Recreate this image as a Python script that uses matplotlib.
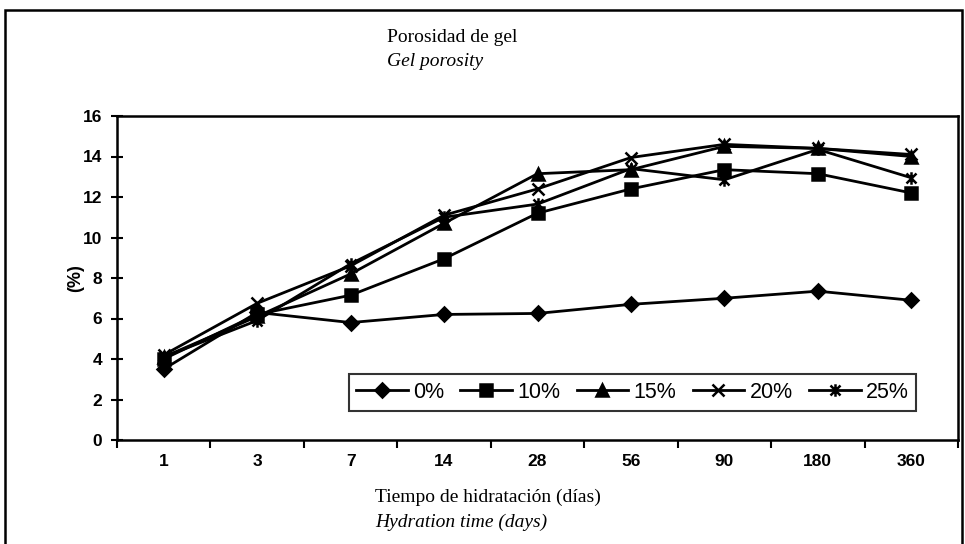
import matplotlib
matplotlib.use("Agg")
import matplotlib.pyplot as plt
from matplotlib.path import Path
from matplotlib.patches import Rectangle
import numpy as np

categories = ["1", "3", "7", "14", "28", "56", "90", "180", "360"]
series_names = ["0%", "10%", "15%", "20%", "25%"]
s0 = [3.5, 6.3, 5.8, 6.2, 6.25, 6.7, 7.0, 7.35, 6.9]
s10 = [4.0, 6.2, 7.15, 8.95, 11.2, 12.4, 13.35, 13.15, 12.2]
s15 = [4.1, 6.1, 8.2, 10.7, 13.15, 13.35, 14.5, 14.4, 14.0]
s20 = [4.2, 6.75, 8.6, 11.1, 12.4, 13.95, 14.6, 14.4, 14.1]
s25 = [4.1, 5.9, 8.7, 11.0, 11.65, 13.4, 12.85, 14.35, 12.95]
yticks = [0, 2, 4, 6, 8, 10, 12, 14, 16]

asterisk = Path([(-1, -1), (1, 1), (-1, 1), (1, -1), (0, -1.25), (0, 1.25)],
                [Path.MOVETO, Path.LINETO, Path.MOVETO, Path.LINETO, Path.MOVETO, Path.LINETO])

markers = ["D", "s", "^", "x", asterisk]
msizes = [7, 8, 8, 9, 9]

fig = plt.figure(figsize=(9.65, 5.44), dpi=100)
ax = fig.add_axes([117/965, 1-440/544, (958-117)/965, (440-116)/544])

x = np.arange(len(categories)) + 0.5
for vals, name, m, ms in zip([s0, s10, s15, s20, s25], series_names, markers, msizes):
    ax.plot(x, vals, color="black", lw=2.0, marker=m, ms=ms, mfc="black", mec="black",
            mew=1.8, label=name)

ax.set_xlim(0, len(categories))
ax.set_ylim(0, 16)
ax.set_yticks(yticks)
ax.set_xticks(np.arange(len(categories) + 1))
ax.set_xticklabels([])
ax.set_xticks(x, minor=True)
ax.set_xticklabels(categories, minor=True)
ax.tick_params(axis="x", which="major", direction="out", length=6, width=1.5)
ax.tick_params(axis="x", which="minor", length=0, pad=10)
ax.tick_params(axis="y", direction="inout", length=9, width=1.5, pad=6)
for lab in ax.get_xticklabels(minor=True) + ax.get_yticklabels():
    lab.set_fontfamily("Liberation Sans")
    lab.set_fontsize(12.5)
    lab.set_fontweight("bold")
for sp in ax.spines.values():
    sp.set_linewidth(1.8)

ax.set_ylabel("(%)", fontfamily="Liberation Sans", fontsize=13, fontweight="bold")
ax.yaxis.set_label_coords((84-117)/841, 0.5)

leg = ax.legend(ncol=5, loc="center", bbox_to_anchor=((352+913)/2/965, 1-(373+412)/2/544),
                bbox_transform=fig.transFigure, frameon=True, fancybox=False, edgecolor="black",
                prop={"family": "Liberation Sans", "size": 15.5}, handlelength=2.4,
                handletextpad=0.25, columnspacing=0.75, borderpad=0.35)
leg.get_frame().set_linewidth(1.5)

fig.text(387/965, 1-38/544, "Porosidad de gel", family="Liberation Serif", fontsize=14,
         ha="left", va="center")
fig.text(387/965, 1-62/544, "Gel porosity", family="Liberation Serif", fontsize=14,
         style="italic", ha="left", va="center")
fig.text(375/965, 1-497/544, "Tiempo de hidratación (días)", family="Liberation Serif",
         fontsize=14, ha="left", va="center")
fig.text(375/965, 1-522/544, "Hydration time (days)", family="Liberation Serif",
         fontsize=14, style="italic", ha="left", va="center")

fig.patches.append(Rectangle((5/965, -0.05), (962-5)/965, 1-10/544+0.05,
                             transform=fig.transFigure, fill=False, edgecolor="black",
                             lw=1.8))

fig.savefig("out.png", dpi=100, facecolor="white")
